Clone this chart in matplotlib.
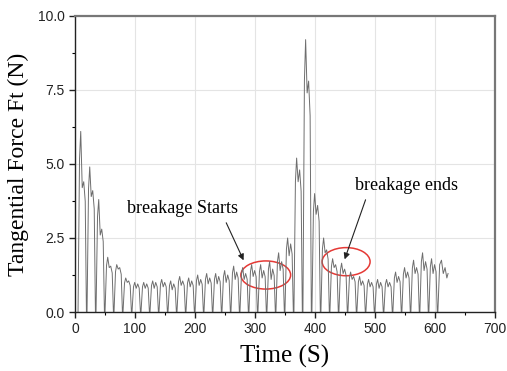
import numpy as np
import matplotlib
matplotlib.use("Agg")
import matplotlib.pyplot as plt
from matplotlib.patches import Ellipse

# cycle start times (s) and force levels (N)
cycle_start = [5, 20, 35, 50, 65, 80, 95, 110, 125, 140, 155, 170, 185, 200,
               215, 230, 245, 260, 275, 290, 305, 320, 335, 350, 365, 380,
               395, 410, 425, 440, 455, 470, 485, 500, 515, 530, 545, 560,
               575, 590]
peak_a = [6.1, 4.9, 3.8, 1.85, 1.6, 1.15, 1.0, 1.0, 1.05, 1.1, 1.05, 1.2,
          1.15, 1.25, 1.3, 1.3, 1.4, 1.55, 1.5, 1.6, 1.6, 1.7, 2.0, 2.5,
          5.2, 9.2, 4.0, 2.5, 1.8, 1.65, 1.35, 1.2, 1.1, 1.1, 1.1, 1.35,
          1.5, 1.75, 2.0, 1.8]
dip = [4.2, 3.9, 2.6, 1.5, 1.45, 1.0, 0.8, 0.8, 0.8, 0.85, 0.75, 0.9, 0.85,
       0.9, 0.95, 0.95, 1.0, 1.1, 1.1, 1.2, 1.15, 1.1, 1.4, 1.9, 4.4, 7.4,
       3.3, 2.0, 1.5, 1.3, 1.1, 0.9, 0.85, 0.8, 0.85, 1.0, 1.15, 1.3, 1.4,
       1.3]
peak_b = [4.4, 4.1, 2.8, 1.55, 1.5, 1.05, 0.95, 0.95, 1.0, 1.0, 0.95, 1.05,
          1.05, 1.1, 1.15, 1.2, 1.25, 1.35, 1.3, 1.4, 1.4, 1.45, 1.7, 2.3,
          4.8, 7.8, 3.6, 2.1, 1.6, 1.45, 1.2, 1.05, 1.0, 1.0, 1.0, 1.2,
          1.35, 1.5, 1.7, 1.6]
tail_t = [605, 608, 611, 614, 617, 620, 622]
tail_f = [0.0, 1.6, 1.75, 1.3, 1.5, 1.15, 1.3]

# build the trace: each cycle rises steeply, wobbles, falls back to zero
offsets = [0, 2.5, 4.5, 7, 9.5, 12, 14]
t, f = [], []
for s, a, d, b in zip(cycle_start, peak_a, dip, peak_b):
    t += [s + o for o in offsets]
    f += [0.0, 0.85 * a, a, d, b, 0.85 * b, 0.0]
t += tail_t
f += tail_f

fig = plt.figure(figsize=(5.07, 3.71), dpi=100)
ax = fig.add_axes([0.148, 0.159, 0.828, 0.798])

ax.plot(t, f, color="#6e6e6e", lw=0.7)

ax.set_xlim(0, 700)
ax.set_ylim(0, 10)
ax.set_xticks(np.arange(0, 701, 100))
ax.set_yticks([0, 2.5, 5.0, 7.5, 10.0])
ax.set_yticklabels(["0.0", "2.5", "5.0", "7.5", "10.0"])
ax.set_xticks(np.arange(50, 700, 100), minor=True)
ax.set_yticks([1.25, 3.75, 6.25, 8.75], minor=True)
ax.grid(True, which="major", color="#e4e4e4", lw=0.8)
ax.set_axisbelow(True)

ax.tick_params(which="major", direction="out", length=4, width=1,
               labelsize=10, colors="#222222")
ax.tick_params(which="minor", direction="out", length=2.5, width=0.8)
for lab in ax.get_xticklabels() + ax.get_yticklabels():
    lab.set_family("Liberation Sans")

for side in ["left", "bottom"]:
    ax.spines[side].set_color("#222222")
    ax.spines[side].set_linewidth(1.0)
for side in ["top", "right"]:
    ax.spines[side].set_color("#777777")
    ax.spines[side].set_linewidth(1.6)

ax.set_xlabel("Time (S)", family="Liberation Serif", fontsize=18, labelpad=6)
ax.set_ylabel("Tangential Force Ft (N)", family="Liberation Serif",
              fontsize=17, labelpad=6)

# red ellipses marking breakage start and end
ax.add_patch(Ellipse((318, 1.25), 83, 0.95, fill=False, ec="#e53935", lw=1.1))
ax.add_patch(Ellipse((452, 1.7), 80, 0.95, fill=False, ec="#e53935", lw=1.1))

arrow = dict(arrowstyle="-|>", color="#222222", lw=0.8, mutation_scale=9)
ax.annotate("breakage Starts", xy=(283, 1.66), xytext=(87, 3.48),
            family="Liberation Serif", fontsize=13, va="center",
            arrowprops=dict(arrow, relpos=(0.87, 0.0)))
ax.annotate("breakage ends", xy=(448, 1.69), xytext=(467, 4.26),
            family="Liberation Serif", fontsize=13, va="center",
            arrowprops=dict(arrow, relpos=(0.12, 0.0)))

fig.savefig("out.png", dpi=100)
